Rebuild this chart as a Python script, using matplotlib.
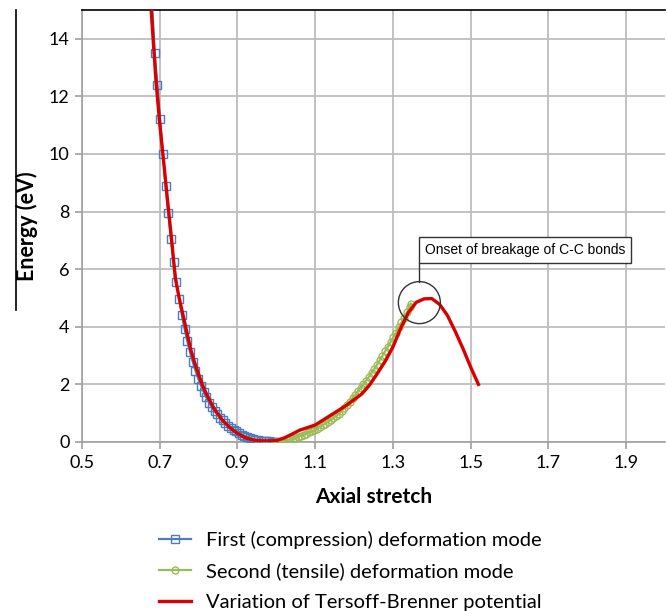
import matplotlib
matplotlib.use("Agg")
import matplotlib.pyplot as plt
from matplotlib.patches import Circle
from matplotlib.lines import Line2D

# ---- data ----
comp_x = [0.679, 0.687, 0.694, 0.701, 0.708, 0.715, 0.722, 0.729, 0.736, 0.743, 0.750,
          0.757, 0.764, 0.771, 0.778, 0.785, 0.792, 0.799, 0.806, 0.813, 0.820,
          0.827, 0.834, 0.841, 0.848, 0.855, 0.862, 0.869, 0.876, 0.883, 0.890,
          0.897, 0.904, 0.911, 0.918, 0.925, 0.932, 0.939, 0.946, 0.953, 0.960,
          0.967, 0.974, 0.981, 0.988, 0.995, 1.000]
comp_y = [15.6, 13.5, 12.4, 11.2, 10.0, 8.9, 7.95, 7.05, 6.25, 5.55, 4.95,
          4.4, 3.92, 3.5, 3.12, 2.78, 2.48, 2.2, 1.96, 1.74, 1.55,
          1.37, 1.22, 1.08, 0.96, 0.85, 0.75, 0.66, 0.57, 0.50, 0.43,
          0.37, 0.31, 0.26, 0.21, 0.17, 0.14, 0.11, 0.08, 0.06, 0.05,
          0.04, 0.03, 0.02, 0.01, 0.005, 0.0]

tens_x = [1.000, 1.007, 1.014, 1.021, 1.028, 1.035, 1.042, 1.049, 1.056, 1.063,
          1.070, 1.077, 1.084, 1.091, 1.098, 1.105, 1.112, 1.119, 1.126, 1.133,
          1.140, 1.147, 1.154, 1.161, 1.168, 1.175, 1.182, 1.189, 1.196, 1.203,
          1.210, 1.217, 1.224, 1.231, 1.238, 1.245, 1.252, 1.259, 1.266, 1.273,
          1.280, 1.287, 1.294, 1.301, 1.308, 1.315, 1.322, 1.329, 1.336, 1.343, 1.347]
tens_y = [0.00, 0.01, 0.03, 0.05, 0.07, 0.09, 0.11, 0.14, 0.18, 0.21,
          0.25, 0.29, 0.33, 0.37, 0.41, 0.46, 0.52, 0.58, 0.64, 0.70,
          0.76, 0.83, 0.91, 0.98, 1.08, 1.18, 1.28, 1.40, 1.52, 1.63,
          1.76, 1.88, 2.00, 2.13, 2.26, 2.40, 2.54, 2.68, 2.84, 2.99,
          3.15, 3.31, 3.47, 3.63, 3.80, 3.98, 4.15, 4.32, 4.50, 4.68, 4.80]

tb_x = [0.675, 0.678, 0.69, 0.70, 0.71, 0.72, 0.73, 0.74, 0.75, 0.76, 0.77, 0.78, 0.79,
        0.80, 0.81, 0.82, 0.84, 0.86, 0.88, 0.90, 0.92, 0.94, 0.96, 0.98, 1.00,
        1.02, 1.04, 1.06, 1.08, 1.10, 1.12, 1.14, 1.16, 1.18, 1.20, 1.22, 1.24,
        1.26, 1.28, 1.30, 1.32, 1.34, 1.36, 1.38, 1.40, 1.42, 1.44, 1.46, 1.48,
        1.50, 1.52]
tb_y = [15.4, 15.0, 12.6, 11.05, 9.75, 8.4, 7.1, 5.7, 5.0, 4.4, 3.8, 3.2, 2.75,
        2.35, 1.97, 1.67, 1.15, 0.78, 0.50, 0.30, 0.15, 0.07, 0.04, 0.04, 0.05,
        0.14, 0.27, 0.41, 0.50, 0.59, 0.76, 0.93, 1.10, 1.27, 1.47, 1.67, 1.98,
        2.38, 2.80, 3.30, 3.95, 4.50, 4.85, 4.97, 4.98, 4.78, 4.40, 3.85, 3.25,
        2.60, 2.00]

x_ticks = [0.5, 0.7, 0.9, 1.1, 1.3, 1.5, 1.7, 1.9]
y_ticks = [0, 2, 4, 6, 8, 10, 12, 14]

labels = ["First (compression) deformation mode",
          "Second (tensile) deformation mode",
          "Variation of Tersoff-Brenner potential"]
annot_text = "Onset of breakage of C-C bonds"

# ---- figure ----
W, H = 667, 611
fig = plt.figure(figsize=(W / 100, H / 100), dpi=100)
ax = fig.add_axes([82 / W, 1 - 442 / H, (665 - 82) / W, (442 - 10) / H])

blue = "#4A7EBB"
green = "#9BBB59"
red = "#D90000"
font = ["Lato", "DejaVu Sans"]

ax.plot(comp_x, comp_y, color=blue, lw=1.6, marker="s", ms=5.5, mfc="none",
        mec=blue, mew=1.0, label=labels[0], zorder=3)
ax.plot(tens_x, tens_y, color=green, lw=1.6, marker="o", ms=5.0, mfc="none",
        mec=green, mew=1.0, label=labels[1], zorder=3)
ax.plot(tb_x, tb_y, color=red, lw=2.4, label=labels[2], zorder=4)

ax.set_xlim(0.5, 2.0)
ax.set_ylim(0, 15)
ax.set_xticks(x_ticks)
ax.set_yticks(y_ticks)
ax.set_xticklabels([f"{v:.1f}" for v in x_ticks], fontfamily=font, fontsize=13)
ax.set_yticklabels([str(v) for v in y_ticks], fontfamily=font, fontsize=13)
ax.grid(True, color="#BDBDBD", lw=1.3)
ax.set_axisbelow(True)
ax.tick_params(axis="both", direction="out", length=5, color="#A0A0A0", width=1.2, pad=4)
for s in ("left", "bottom"):
    ax.spines[s].set_color("#A0A0A0")
    ax.spines[s].set_linewidth(1.2)
ax.spines["right"].set_visible(False)
ax.spines["top"].set_color("black")
ax.spines["top"].set_linewidth(1.2)

ax.set_xlabel("Axial stretch", fontfamily=font, fontsize=15, fontweight="bold", labelpad=12)
ax.set_ylabel("Energy (eV)", fontfamily=font, fontsize=15.5, fontweight="bold", labelpad=10)
ax.yaxis.set_label_coords(-0.075, 0.5)

# annotation: circle + leader + box
cx, cy = 1.368, 4.84
r_px = 21
disp = ax.transData.transform((cx, cy))
circ = Circle(disp, radius=r_px, transform=None, fill=False, ec="#333333", lw=1.0, zorder=5)
fig.patches.append(circ)
fig.text(425 / W, 1 - 250 / H, annot_text, fontfamily=["Liberation Sans"], fontsize=10,
         va="center", ha="left",
         bbox=dict(boxstyle="square,pad=0.4", fc="white", ec="#333333", lw=1.0))
fig.add_artist(Line2D([disp[0] / W, disp[0] / W], [(disp[1] + r_px) / H, 1 - 263 / H],
                      transform=fig.transFigure, color="#333333", lw=1.0))

# stray frame line at left
fig.add_artist(Line2D([16 / W, 16 / W], [1 - 10 / H, 1 - 310 / H],
                      transform=fig.transFigure, color="black", lw=1.2))

leg = fig.legend(loc="upper left", bbox_to_anchor=(141 / W, 1 - 513 / H), frameon=False,
                 prop={"family": font, "size": 14.5}, handlelength=1.6, labelspacing=0.66,
                 handletextpad=0.75)

fig.savefig("out.png", dpi=100)
